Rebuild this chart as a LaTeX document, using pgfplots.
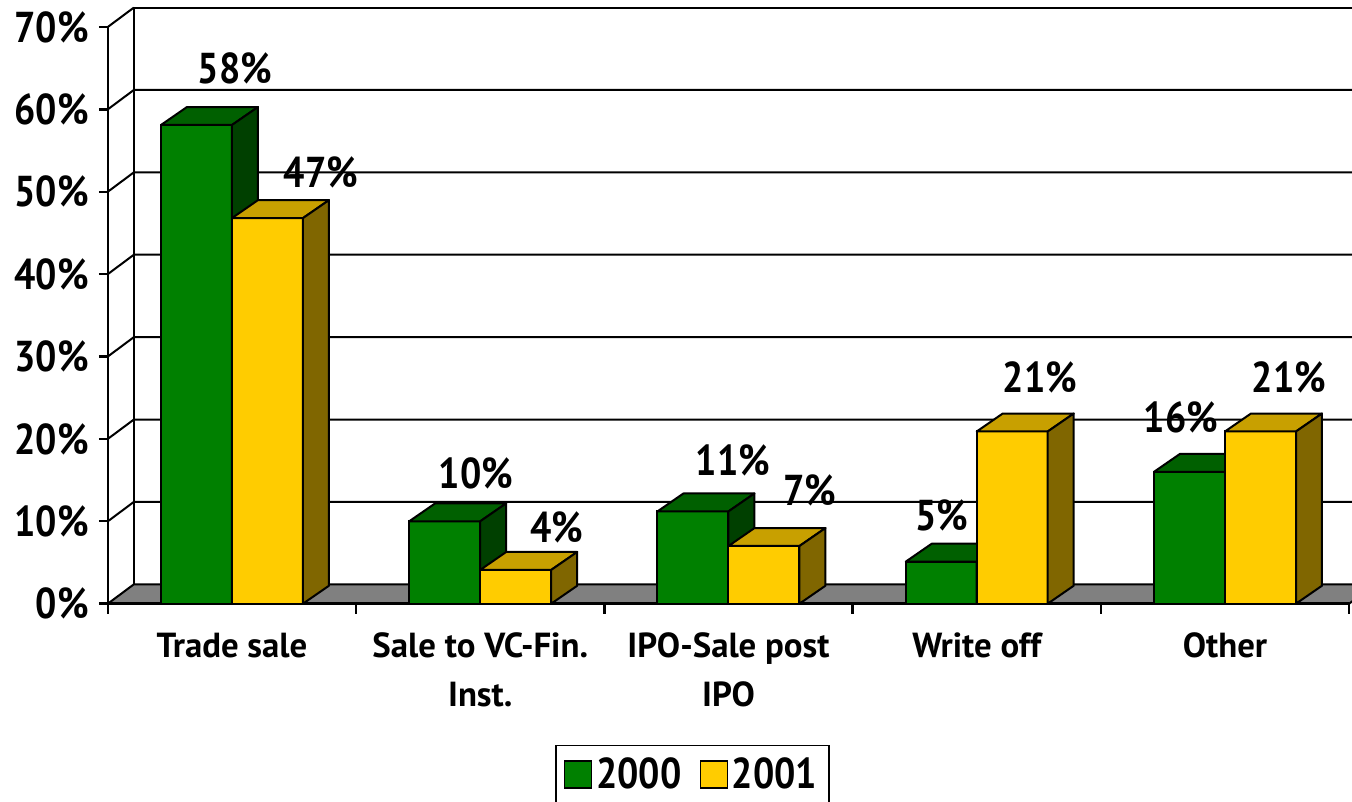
\documentclass[border=0pt]{standalone}
\usepackage{fontspec}
\setmainfont{PT Sans}
\newfontfamily\numfont{PT Sans}[FakeStretch=0.87]
\usepackage{pgfplots}
\usepackage{pgfplotstable}
\pgfplotsset{compat=1.18}

\definecolor{gfront}{RGB}{0,128,0}
\definecolor{gtop}{RGB}{0,96,0}
\definecolor{gside}{RGB}{0,64,0}
\definecolor{yfront}{RGB}{255,204,0}
\definecolor{ytop}{RGB}{200,160,0}
\definecolor{yside}{RGB}{128,102,0}
\definecolor{floorgray}{RGB}{128,128,128}

\newcommand\bigf{\numfont\fontsize{21.6}{25}\selectfont\bfseries}
\newcommand\catf{\fontsize{17.4}{21}\selectfont\bfseries}

% exit routes, share of exits (%)
\pgfplotstableread{
x a    b
0 58.1 46.8
1 10.0 4.1
2 11.2 7.0
3 5.1  20.9
4 16.0 20.9
}\exitdata

\newcommand\bw{0.286}
\newcommand\bdx{0.1047}
\newcommand\bdy{2.18}

\pgfplotsset{sqlegend/.style={legend image code/.code={\draw[##1,draw=black,line width=0.75pt] (0pt,-6.75pt) rectangle (13.5pt,6.75pt);}}}

% top and side faces of a 3D bar, read from the table
\newcommand{\cubefaces}[5]{%
  \pgfplotstablegetelem{#1}{#2}\of\exitdata \let\val\pgfplotsretval
  \pgfplotstablegetelem{#1}{x}\of\exitdata \let\cx\pgfplotsretval
  \pgfmathsetmacro{\xa}{\cx+#3}%
  \pgfmathsetmacro{\xb}{\cx+#3+\bw}%
  \pgfmathsetmacro{\xc}{\cx+#3+\bw+\bdx}%
  \pgfmathsetmacro{\xd}{\cx+#3+\bdx}%
  \pgfmathsetmacro{\ya}{\val}%
  \pgfmathsetmacro{\yb}{\val+\bdy}%
  \edef\doit{%
    \noexpand\addplot[forget plot, fill=#4, draw=black, line width=1pt, line join=round] coordinates {(\xa,\ya) (\xb,\ya) (\xc,\yb) (\xd,\yb)} -- cycle;
    \noexpand\addplot[forget plot, fill=#5, draw=black, line width=1pt, line join=round] coordinates {(\xb,0) (\xc,\bdy) (\xc,\yb) (\xb,\ya)} -- cycle;
  }\doit
}

\begin{document}
\begin{tikzpicture}
\begin{axis}[
  scale only axis, width=676pt, height=401pt,
  xmin=-0.9345, xmax=4.5116, ymin=-24.07, ymax=73.27,
  hide axis,
  legend columns=2,
  legend style={at={(0.4105,0.0711)}, anchor=north west, draw=black, line width=0.75pt,
     font=\bigf, inner xsep=4pt, inner ysep=4pt,
     /tikz/every even column/.append style={column sep=7pt}},
]
% walls and gridlines
\draw[line width=1pt] (axis cs:-0.3953,2.35) -- (axis cs:-0.3953,72.35) -- (axis cs:4.7,72.35);
\draw[line width=1pt] (axis cs:-0.5,70) -- (axis cs:-0.3953,72.35);
\draw[line width=1pt] (axis cs:-0.5,60) -- (axis cs:-0.3953,62.35) -- (axis cs:4.7,62.35);
\draw[line width=1pt] (axis cs:-0.5,50) -- (axis cs:-0.3953,52.35) -- (axis cs:4.7,52.35);
\draw[line width=1pt] (axis cs:-0.5,40) -- (axis cs:-0.3953,42.35) -- (axis cs:4.7,42.35);
\draw[line width=1pt] (axis cs:-0.5,30) -- (axis cs:-0.3953,32.35) -- (axis cs:4.7,32.35);
\draw[line width=1pt] (axis cs:-0.5,20) -- (axis cs:-0.3953,22.35) -- (axis cs:4.7,22.35);
\draw[line width=1pt] (axis cs:-0.5,10) -- (axis cs:-0.3953,12.35) -- (axis cs:4.7,12.35);
\draw[line width=1.2pt] (axis cs:-0.5,0) -- (axis cs:-0.5,70);
\pgfplotsinvokeforeach{0,10,20,30,40,50,60,70}{
  \draw[line width=1.2pt] (axis cs:-0.536,#1) -- (axis cs:-0.5,#1);
  \node[anchor=east, font=\bigf, inner sep=0pt] at (axis cs:-0.576,#1) {#1\%};
}
\draw[line width=1pt, fill=floorgray] (axis cs:-0.5,0) -- (axis cs:4.5,0) -- (axis cs:4.6047,2.35) -- (axis cs:-0.3953,2.35) -- cycle;
\draw[line width=1.2pt] (axis cs:-0.5,0) -- (axis cs:4.5,0);
\pgfplotsinvokeforeach{-0.5,0.5,1.5,2.5,3.5,4.5}{
  \draw[line width=1.2pt] (axis cs:#1,0) -- (axis cs:#1,-1.25);
}

% bars: 2000
\addplot[ybar, bar width=0.286, bar shift=-0.143, fill=gfront, draw=black, line width=1pt, sqlegend] table[x=x, y=a] {\exitdata};
\addlegendentry{2000}
\pgfplotsinvokeforeach{0,1,2,3,4}{\cubefaces{#1}{a}{-0.286}{gtop}{gside}}
% bars: 2001
\addplot[ybar, bar width=0.286, bar shift=0.143, fill=yfront, draw=black, line width=1pt, sqlegend] table[x=x, y=b] {\exitdata};
\addlegendentry{2001}
\pgfplotsinvokeforeach{0,1,2,3,4}{\cubefaces{#1}{b}{0}{ytop}{yside}}

% value labels
\node[font=\bigf, inner sep=0pt] at (axis cs:0.0121,65.02) {58\%};
\node[font=\bigf, inner sep=0pt] at (axis cs:0.3585,52.40) {47\%};
\node[font=\bigf, inner sep=0pt] at (axis cs:0.9829,15.86) {10\%};
\node[font=\bigf, inner sep=0pt] at (axis cs:1.3092,9.31) {4\%};
\node[font=\bigf, inner sep=0pt] at (axis cs:2.0180,17.44) {11\%};
\node[font=\bigf, inner sep=0pt] at (axis cs:2.3282,13.80) {7\%};
\node[font=\bigf, inner sep=0pt] at (axis cs:2.8600,10.77) {5\%};
\node[font=\bigf, inner sep=0pt] at (axis cs:3.2548,27.41) {21\%};
\node[font=\bigf, inner sep=0pt] at (axis cs:3.8226,22.67) {16\%};
\node[font=\bigf, inner sep=0pt] at (axis cs:4.2576,27.41) {21\%};

% category labels
\node[anchor=base, font=\catf, inner sep=0pt] at (axis cs:0,-6.5) {Trade sale};
\node[anchor=base, font=\catf, inner sep=0pt] at (axis cs:1,-6.5) {Sale to VC-Fin.};
\node[anchor=base, font=\catf, inner sep=0pt] at (axis cs:1,-12.43) {Inst.};
\node[anchor=base, font=\catf, inner sep=0pt] at (axis cs:2,-6.5) {IPO-Sale post};
\node[anchor=base, font=\catf, inner sep=0pt] at (axis cs:2,-12.43) {IPO};
\node[anchor=base, font=\catf, inner sep=0pt] at (axis cs:3,-6.5) {Write off};
\node[anchor=base, font=\catf, inner sep=0pt] at (axis cs:4,-6.5) {Other};

\coordinate (BL) at (rel axis cs:0,0);
\coordinate (TR) at (rel axis cs:1,1);
\end{axis}
\pgfresetboundingbox
\useasboundingbox (BL) rectangle (TR);
\end{tikzpicture}
\end{document}
